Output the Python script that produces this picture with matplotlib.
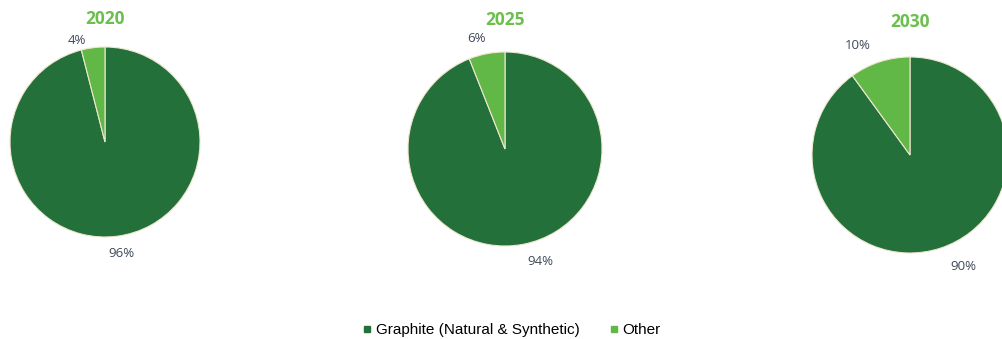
import matplotlib
matplotlib.use("Agg")
from matplotlib import pyplot as plt
from matplotlib.lines import Line2D

# shares of the anode material market
years = ["2020", "2025", "2030"]
graphite = [96, 94, 90]
other = [4, 6, 10]
categories = ["Graphite (Natural & Synthetic)", "Other"]

dark_green = "#23703A"
light_green = "#62B847"
label_color = "#3F4A58"

W, H = 1002, 339
fig = plt.figure(figsize=(W / 100, H / 100), dpi=100)

# pie centre (px), radius (px), label offsets in radius units, title y (px)
layout = [
    ((105, 142), 95, (-0.30, 1.07), (0.17, -1.17), 19),
    ((505, 149), 97, (-0.29, 1.14), (0.36, -1.16), 20),
    ((910, 155), 98, (-0.53, 1.12), (0.54, -1.14), 22),
]

for year, g, o, (centre, r, lab_o, lab_g, ty) in zip(years, graphite, other, layout):
    cx, cy = centre
    ax = fig.add_axes([(cx - r) / W, (H - cy - r) / H, 2 * r / W, 2 * r / H])
    ax.pie(
        [g, o],
        colors=[dark_green, light_green],
        startangle=90,
        counterclock=False,
        wedgeprops=dict(edgecolor="#EFE6CF", linewidth=0.8),
    )
    ax.set_xlim(-1, 1)
    ax.set_ylim(-1, 1)
    ax.set_aspect("equal")
    ax.text(lab_o[0], lab_o[1], f"{o}%", ha="center", va="center",
            fontsize=9.5, color=label_color, family="Open Sans", clip_on=False)
    ax.text(lab_g[0], lab_g[1], f"{g}%", ha="center", va="center",
            fontsize=9.5, color=label_color, family="Open Sans", clip_on=False)
    fig.text(cx / W, (H - ty) / H, year, ha="center", va="center",
             fontsize=12.5, fontweight="bold", color="#6BBF4C", family="Open Sans")

handles = [
    Line2D([], [], marker="s", linestyle="", markersize=5, color=dark_green),
    Line2D([], [], marker="s", linestyle="", markersize=5, color=light_green),
]
fig.legend(handles, categories, loc="center", bbox_to_anchor=(512 / W, (H - 330) / H),
           ncol=2, frameon=False, handlelength=0.5, handletextpad=0.3,
           columnspacing=2.0, prop=dict(family="Liberation Sans", size=11))

fig.savefig("out.png", dpi=100)
